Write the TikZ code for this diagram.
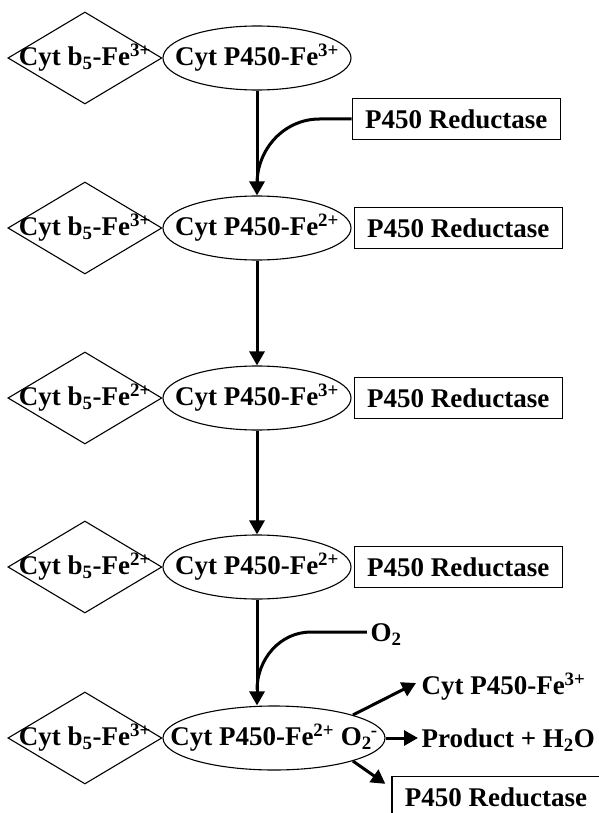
\documentclass[tikz,border=0pt]{standalone}
\usepackage{fontspec}
\setmainfont{Liberation Serif}
\usetikzlibrary{arrows.meta,positioning,shapes.geometric}
\newcommand{\feox}[1]{Fe\textsuperscript{#1}}

\begin{document}
\begin{tikzpicture}[
    x=1pt, y=-1pt,
    font=\fontsize{27}{30}\selectfont\bfseries,
    cytb/.style={
        draw,
        diamond,
        line width=1.1pt,
        inner sep=0pt,
        minimum width=154pt,
        minimum height=92pt
    },
    cytp/.style={
        draw,
        ellipse,
        line width=1.1pt,
        inner sep=0pt,
        minimum width=188pt,
        minimum height=64pt
    },
    reductase/.style={
        draw,
        line width=1.3pt,
        minimum width=208pt,
        minimum height=41pt
    },
    arrow/.style={-{Triangle[length=14pt,width=15pt]},line width=3pt},
    feed/.style={line width=3pt}
]
\useasboundingbox (0,0) rectangle (598,813);

% main chain of P450 states
\node[cytp, label={center:Cyt P450-\feox{3+}}] (e1) at (257,58) {};
\node[cytp, label={center:Cyt P450-\feox{2+}}] (e2) at (257,228) {};
\node[cytp, label={center:Cyt P450-\feox{3+}}] (e3) at (257,398) {};
\node[cytp, label={center:Cyt P450-\feox{2+}}] (e4) at (257,567) {};
\node[cytp, minimum width=222pt,
    label={center:Cyt P450-\feox{2+} O\textsubscript{2}\kern-1pt\textsuperscript{-}}] (e5) at (274,738) {};

% cytochrome b5 partners
\node[cytb, left=0pt of e1, label={center:Cyt b\textsubscript{5}-\feox{3+}}] (b1) {};
\node[cytb, left=0pt of e2, label={center:Cyt b\textsubscript{5}-\feox{3+}}] (b2) {};
\node[cytb, left=0pt of e3, label={center:Cyt b\textsubscript{5}-\feox{2+}}] (b3) {};
\node[cytb, left=0pt of e4, label={center:Cyt b\textsubscript{5}-\feox{2+}}] (b4) {};
\node[cytb, left=0pt of e5, label={center:Cyt b\textsubscript{5}-\feox{3+}}] (b5) {};

% reductase boxes
\node[reductase, right=0pt of e1, yshift=-61pt] (r1) {P450 Reductase};
\node[reductase, right=2pt of e2] (r2) {P450 Reductase};
\node[reductase, right=2pt of e3] (r3) {P450 Reductase};
\node[reductase, right=2pt of e4] (r4) {P450 Reductase};

\node (o2) at (386,635) {O\textsubscript{2}};

% products
\node[anchor=west] (p1) at (418,687) {Cyt P450-\feox{3+}};
\node[anchor=west] (p2) at (418,740) {Product + H\textsubscript{2}O};
\node[reductase, minimum width=214pt] (r5) at (499,797) {\hspace*{-6pt}P450 Reductase};

\coordinate (j1) at (257,184);
\coordinate (j4) at (257,690);

\draw[arrow] (e1.south) -- (e2.north);
\draw[arrow] (e2.south) -- (e3.north);
\draw[arrow] (e3.south) -- (e4.north);
\draw[arrow] (e4.south) -- (e4.south |- e5.north);

\draw[feed] (r1.west) -- ++(-32,0) to[out=180,in=90] (j1);
\draw[feed] ([yshift=3pt]o2.west) -- ++(-56,0) to[out=180,in=90] (j4);

\draw[arrow] (e5.north east) -- ([xshift=-2pt,yshift=4pt]p1.west);
\draw[arrow] (e5.east) -- (e5.east -| p2.west);
\draw[arrow] (e5.south east) -- ([xshift=-6pt,yshift=-8pt]r5.north west);

\end{tikzpicture}
\end{document}
